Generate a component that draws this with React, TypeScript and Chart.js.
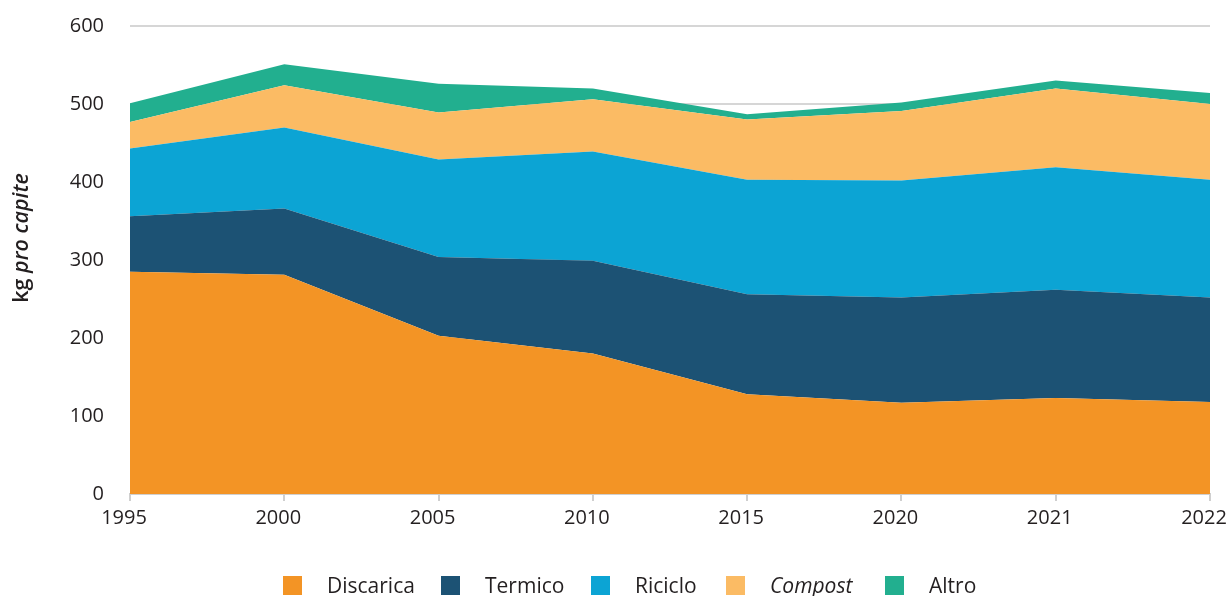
import React, { useEffect, useRef } from "react";
import { Chart, registerables } from "chart.js";

Chart.register(...registerables);

const years = ["1995", "2000", "2005", "2010", "2015", "2020", "2021", "2022"];
const discarica = [285, 281, 203, 180, 128, 117, 123, 118];
const termico = [71, 85, 101, 119, 128, 135, 139, 134];
const riciclo = [87, 104, 125, 140, 147, 150, 157, 151];
const compost = [34, 54, 60, 67, 77, 89, 101, 97];
const altro = [24, 27, 37, 14, 7, 11, 10, 14];

const seriesNames = ["Discarica", "Termico", "Riciclo", "Compost", "Altro"];
const seriesData = [discarica, termico, riciclo, compost, altro];
const seriesColors = ["#F39425", "#1C5274", "#0CA4D4", "#FBBB64", "#22AF8F"];
const italicSeries = ["Compost"];

const yTitleNormal = "kg ";
const yTitleItalic = "pro capite";

const FONT = "'Open Sans', 'DejaVu Sans', sans-serif";
const TEXT = "#231f20";
const legendLeft = [283, 441, 591, 726, 885];

const yTitlePlugin = {
  id: "yTitleMixed",
  afterDraw(chart: any) {
    const ctx = chart.ctx;
    ctx.save();
    const f1 = `600 21.5px ${FONT}`;
    const f2 = `italic 600 21.5px ${FONT}`;
    ctx.font = f1;
    const w1 = ctx.measureText(yTitleNormal).width;
    ctx.font = f2;
    const w2 = ctx.measureText(yTitleItalic).width;
    ctx.translate(22, 238);
    ctx.rotate(-Math.PI / 2);
    ctx.fillStyle = TEXT;
    ctx.textBaseline = "middle";
    ctx.textAlign = "left";
    const start = -(w1 + w2) / 2;
    ctx.font = f1;
    ctx.fillText(yTitleNormal, start, 0);
    ctx.font = f2;
    ctx.fillText(yTitleItalic, start + w1, 0);
    ctx.restore();
  },
};

export default function App() {
  const canvasRef = useRef<HTMLCanvasElement | null>(null);

  useEffect(() => {
    document.body.style.margin = "0";
    const canvas = canvasRef.current;
    if (!canvas) return;
    const chart = new Chart(canvas, {
      type: "line",
      data: {
        labels: years,
        datasets: seriesNames.map((name, i) => ({
          label: name,
          data: seriesData[i],
          backgroundColor: seriesColors[i],
          borderColor: seriesColors[i],
          borderWidth: 0,
          pointRadius: 0,
          tension: 0,
          fill: i === 0 ? "origin" : "-1",
        })),
      },
      options: {
        responsive: false,
        animation: false,
        layout: { padding: { left: 0, right: 19, top: 26, bottom: 62 } },
        plugins: {
          legend: { display: false },
          tooltip: { enabled: false },
        },
        scales: {
          x: {
            offset: false,
            grid: {
              drawOnChartArea: false,
              drawTicks: true,
              tickLength: 7,
              color: "#cfcfcf",
              lineWidth: 2,
            },
            border: { display: true, color: "#cfcfcf", width: 2 },
            ticks: {
              color: TEXT,
              font: { family: FONT, size: 20 },
              padding: 5,
              labelOffset: -6,
              maxRotation: 0,
              autoSkip: false,
            },
            afterFit(scale: any) {
              scale.height = 40;
              scale.paddingLeft = 0;
              scale.paddingRight = 0;
            },
          },
          y: {
            stacked: true,
            min: 0,
            max: 600,
            grid: {
              drawTicks: false,
              color: "#d6d6d6",
              lineWidth: 2,
            },
            border: { display: false },
            ticks: {
              stepSize: 100,
              color: TEXT,
              font: { family: FONT, size: 20 },
              padding: 26,
            },
            afterFit(scale: any) {
              scale.width = 130;
              scale.paddingTop = 0;
              scale.paddingBottom = 0;
            },
          },
        },
      },
      plugins: [yTitlePlugin],
    });
    return () => chart.destroy();
  }, []);

  return (
    <div style={{ position: "relative", width: 1229, height: 596, background: "#fff", overflow: "hidden" }}>
      <canvas ref={canvasRef} width={1229} height={596} style={{ display: "block" }} />
      {seriesNames.map((name, i) => (
        <div
          key={name}
          style={{
            position: "absolute",
            left: legendLeft[i],
            top: 573,
            height: 24,
            display: "flex",
            alignItems: "center",
            fontFamily: FONT,
            fontSize: 21,
            color: TEXT,
            lineHeight: "24px",
            whiteSpace: "nowrap",
          }}
        >
          <span
            style={{
              display: "inline-block",
              width: 19,
              height: 19,
              background: seriesColors[i],
              marginRight: 25,
            }}
          />
          <span style={{ fontStyle: italicSeries.includes(name) ? "italic" : "normal" }}>{name}</span>
        </div>
      ))}
    </div>
  );
}
